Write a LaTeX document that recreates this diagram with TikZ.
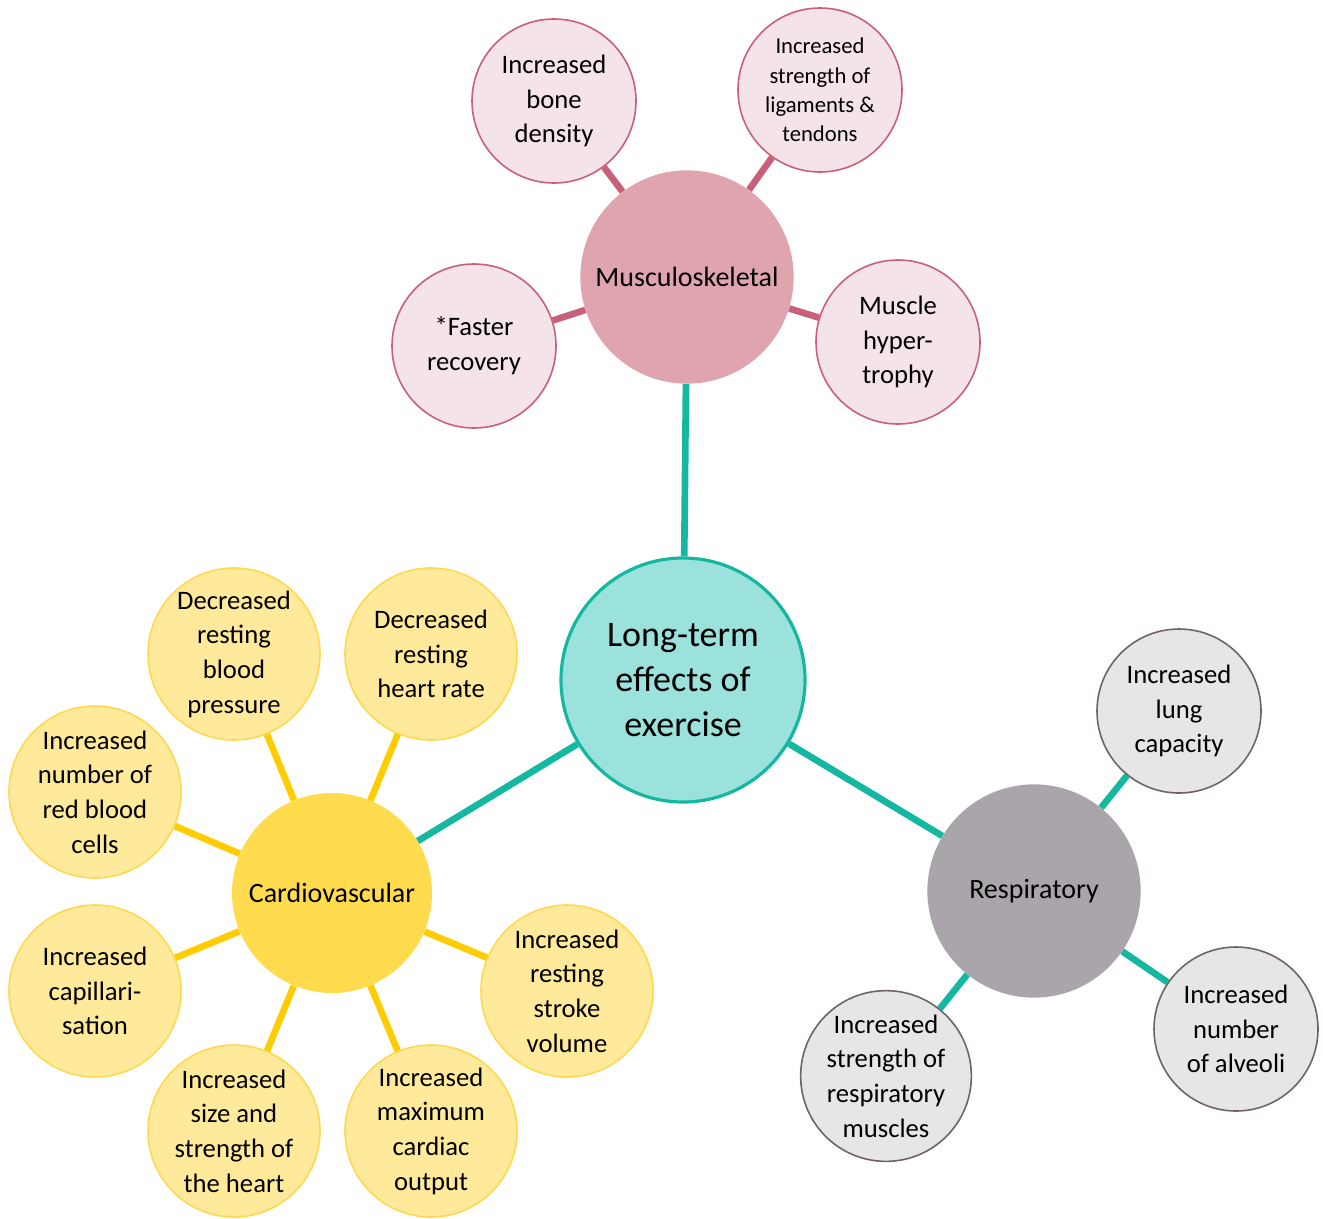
\documentclass[tikz,border=0pt]{standalone}
\usepackage{fontspec}
\setmainfont{Carlito}

\definecolor{Cteal}{HTML}{14B8A0}
\definecolor{Ctealfill}{HTML}{9BE2DC}
\definecolor{Crose}{HTML}{C9607A}
\definecolor{Crosefill}{HTML}{E0A4AF}
\definecolor{Crosepale}{HTML}{F4E3E8}
\definecolor{Csun}{HTML}{FFCC00}
\definecolor{Csunfill}{HTML}{FFDB4D}
\definecolor{Csunpale}{HTML}{FFE99A}
\definecolor{Csunedge}{HTML}{FFD84F}
\definecolor{Cgrey}{HTML}{A9A5AA}
\definecolor{Cgreypale}{HTML}{E6E6E6}
\definecolor{Cgreyedge}{HTML}{6E6468}

\begin{document}
\begin{tikzpicture}[x=0.75pt,y=-0.75pt,
		bubble/.style={circle,inner sep=0pt,align=center,text=black},
		hub/.style={bubble,minimum size=160pt,font=\fontsize{21}{26}\selectfont},
		leaf/.style={bubble,minimum size=123pt,line width=1.2pt,font=\fontsize{20}{26}\selectfont},
		sunleaf/.style={bubble,minimum size=129pt,fill=Csunpale,draw=Csunedge,line width=1.2pt,font=\fontsize{20}{26}\selectfont},
		twig/.style={line width=5pt}]
	\useasboundingbox (0,0) rectangle (1323,1218);

	% centre
	\node[bubble,minimum size=183pt,fill=Ctealfill,draw=Cteal,line width=2.4pt,
		font=\fontsize{27}{34}\selectfont] (core) at (683,680) {Long-term\\effects of\\exercise};

	% musculoskeletal branch
	\node[hub,fill=Crosefill] (musc) at (687,277) {Musculoskeletal};
	\node[leaf,fill=Crosepale,draw=Crose] (bone) at (554,101) {Increased\\bone\\density};
	\node[leaf,fill=Crosepale,draw=Crose,font=\fontsize{17}{22}\selectfont] (liga) at (820,90) {Increased\\strength of\\ligaments \&\\tendons};
	\node[leaf,fill=Crosepale,draw=Crose] (recov) at (474,346) {*Faster\\recovery};
	\node[leaf,fill=Crosepale,draw=Crose] (hyper) at (898,342) {Muscle\\hyper-\\trophy};

	% cardiovascular branch
	\node[hub,minimum size=150pt,fill=Csunfill] (cardio) at (332,893) {Cardiovascular};
	\node[sunleaf] (bp) at (234,654) {Decreased\\resting\\blood\\pressure};
	\node[sunleaf] (hr) at (431,654) {Decreased\\resting\\heart rate};
	\node[sunleaf] (rbc) at (95,792) {Increased\\number of\\red blood\\cells};
	\node[sunleaf] (capil) at (95,991) {Increased\\capillari-\\sation};
	\node[sunleaf] (heart) at (234,1131) {Increased\\size and\\strength of\\the heart};
	\node[sunleaf] (output) at (431,1131) {Increased\\maximum\\cardiac\\output};
	\node[sunleaf] (stroke) at (567,991) {Increased\\resting\\stroke\\volume};

	% respiratory branch
	\node[hub,fill=Cgrey] (resp) at (1034,891) {Respiratory};
	\node[leaf,fill=Cgreypale,draw=Cgreyedge] (lung) at (1179,711) {Increased\\lung\\capacity};
	\node[leaf,fill=Cgreypale,draw=Cgreyedge] (alveoli) at (1236,1029) {Increased\\number\\of alveoli};
	\node[leaf,fill=Cgreypale,draw=Cgreyedge] (muscles) at (886,1076) {Increased\\strength of\\respiratory\\muscles};

	% links
	\foreach \a in {musc,cardio,resp}
		\draw[twig,Cteal] (core) -- (\a);
	\foreach \a in {bone,liga,recov,hyper}
		\draw[twig,Crose] (musc) -- (\a);
	\foreach \a in {bp,hr,rbc,capil,heart,output,stroke}
		\draw[twig,Csun] (cardio) -- (\a);
	\foreach \a in {lung,alveoli,muscles}
		\draw[twig,Cteal] (resp) -- (\a);
\end{tikzpicture}
\end{document}
